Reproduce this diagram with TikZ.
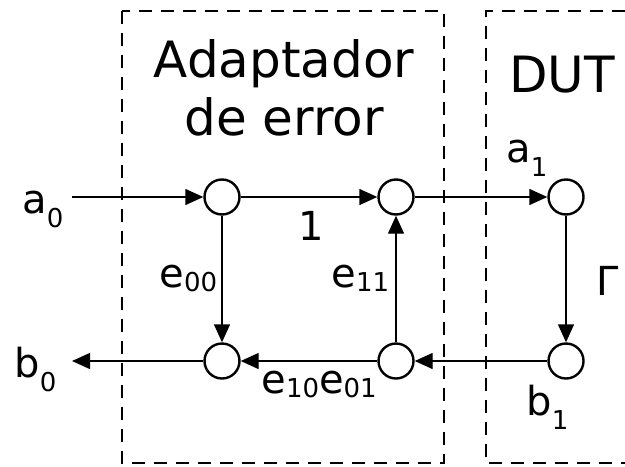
\documentclass[tikz,border=0pt]{standalone}
\usepackage{fontspec}
\setmainfont{DejaVu Sans}
\usetikzlibrary{arrows.meta}
\newcommand{\lowsub}[2][0.35em]{\raisebox{-#1}{\fontsize{13}{15}\selectfont #2}}
\tikzset{
  port/.style={circle,draw,line width=1.2pt,minimum size=17.5pt,inner sep=0pt},
  flow/.style={-{Triangle[length=9pt,width=8pt]},line width=0.7pt},
  frame/.style={line width=1.3pt,dash pattern=on 6.5pt off 4.5pt},
  lbl/.style={font=\fontsize{20}{23}\selectfont,anchor=base west,inner sep=0pt},
  ttl/.style={font=\fontsize{25}{29}\selectfont,align=center,inner sep=0pt},
}
\begin{document}
\begin{tikzpicture}[x=0.5pt,y=-0.5pt]
    \useasboundingbox (0,0) rectangle (625,466);

    % cajas punteadas
    \draw[frame] (122,11) rectangle (444,463);
    \draw[frame] (625,11) -- (486,11) -- (486,463) -- (625,463);
    \node[ttl] (adap) at (284,88) {Adaptador\\de error};
    \node[lbl,font=\fontsize{25}{28}\selectfont] (dut) at (509,92) {DUT};

    % nodos del grafo
    \node[port] (n1) at (222,197) {};
    \node[port] (n2) at (396,197) {};
    \node[port] (n3) at (566,197) {};
    \node[port] (n4) at (566,361) {};
    \node[port] (n5) at (396,361) {};
    \node[port] (n6) at (222,361) {};
    \coordinate (in) at (72,197);
    \coordinate (out) at (72,361);

    \draw[flow] (in) -- (n1);
    \draw[flow] (n1) -- (n2);
    \draw[flow] (n2) -- (n3);
    \draw[flow] (n3) -- (n4);
    \draw[flow] (n4) -- (n5);
    \draw[flow] (n5) -- (n2);
    \draw[flow] (n1) -- (n6);
    \draw[flow] (n5) -- (n6);
    \draw[flow] (n6) -- (out);

    % etiquetas
    \node[lbl] (la0) at (22,213) {a\lowsub{0}};
    \node[lbl] (lb0) at (14,377) {b\lowsub{0}};
    \node[lbl] (la1) at (506,162) {a\lowsub{1}};
    \node[lbl] (lb1) at (526,415) {b\lowsub{1}};
    \node[lbl] (uno) at (298,240) {1};
    \node[lbl] (e00) at (159,287) {e\lowsub[0.12em]{00}};
    \node[lbl] (e11) at (331,287) {e\lowsub[0.12em]{11}};
    \node[lbl] (e1001) at (261,393) {e\lowsub[0.12em]{10}e\lowsub[0.12em]{01}};
    \node[lbl] (gam) at (596,295) {Γ};
\end{tikzpicture}
\end{document}
